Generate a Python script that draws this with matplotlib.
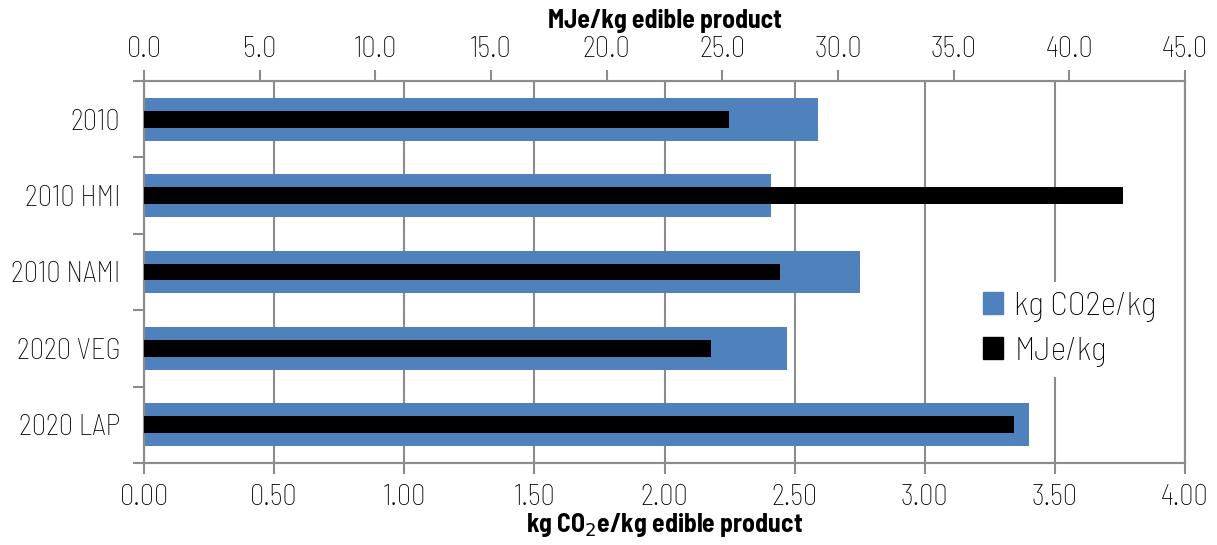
import matplotlib
matplotlib.use("Agg")
import matplotlib.pyplot as plt
from matplotlib import font_manager
from matplotlib.patches import Patch

names = {f.name for f in font_manager.fontManager.ttflist}
font = "DejaVu Sans"
for cand in ["Barlow Semi Condensed", "Roboto Condensed", "Liberation Sans Narrow"]:
    if cand in names:
        font = cand
        break
plt.rcParams["font.family"] = [font, "DejaVu Sans"]

categories = ["2010", "2010 HMI", "2010 NAMI", "2020 VEG", "2020 LAP"]
co2 = [2.59, 2.41, 2.75, 2.47, 3.40]
mje = [25.3, 42.3, 27.5, 24.5, 37.6]

blue = "#4F81BD"
grey = "#8C8C8C"
tick_fs = 20.5

fig = plt.figure(figsize=(12.17, 5.45), dpi=100)
ax = fig.add_axes([144 / 1217, 1 - 463 / 545, (1185 - 144) / 1217, (463 - 81) / 545])

y = list(range(len(categories)))
ax.barh(y, co2, height=0.56, color=blue, zorder=2)
ax.set_xlim(0, 4)
ax.set_ylim(len(categories) - 0.5, -0.5)
ax.set_xticks([i * 0.5 for i in range(9)])
ax.set_xticklabels([f"{i * 0.5:.2f}" for i in range(9)], fontsize=tick_fs, fontweight="light")
ax.set_yticks(y)
ax.set_yticklabels(categories, fontsize=tick_fs, fontweight="light")
ax.set_yticks([i - 0.5 for i in range(len(categories) + 1)], minor=True)
ax.tick_params(axis="y", which="major", length=0, pad=17)
ax.tick_params(axis="y", which="minor", length=8, color=grey, width=1.5)
ax.tick_params(axis="x", length=8, color=grey, width=1.5, pad=7)
ax.grid(axis="x", color=grey, linewidth=1.5, zorder=0)
ax.set_axisbelow(True)
ax.set_xlabel("kg CO$_2$e/kg edible product", fontsize=18.5, fontweight="bold", labelpad=0)
for s in ax.spines.values():
    s.set_color(grey)
    s.set_linewidth(1.5)

ax2 = ax.twiny()
ax2.barh(y, mje, height=0.22, color="black", zorder=3)
ax2.set_xlim(0, 45)
ax2.set_xticks([i * 5 for i in range(10)])
ax2.set_xticklabels([f"{i * 5:.1f}" for i in range(10)], fontsize=tick_fs, fontweight="light")
ax2.tick_params(axis="x", length=8, color=grey, width=1.5, pad=5)
ax2.set_xlabel("MJe/kg edible product", fontsize=18.5, fontweight="bold", labelpad=6)
for s in ax2.spines.values():
    s.set_color(grey)
    s.set_linewidth(1.5)

handles = [Patch(color=blue, label="kg CO2e/kg"), Patch(color="black", label="MJe/kg")]
leg = ax2.legend(handles=handles, loc="center left", bbox_to_anchor=(0.78, 0.35),
                 prop={"size": 24, "weight": "light"}, frameon=True,
                 handlelength=0.6, handleheight=0.6,
                 handletextpad=0.35, labelspacing=0.45, borderpad=0.3)
leg.get_frame().set_facecolor("white")
leg.get_frame().set_edgecolor("none")
leg.get_frame().set_alpha(1)

fig.savefig("out.png", dpi=100)
